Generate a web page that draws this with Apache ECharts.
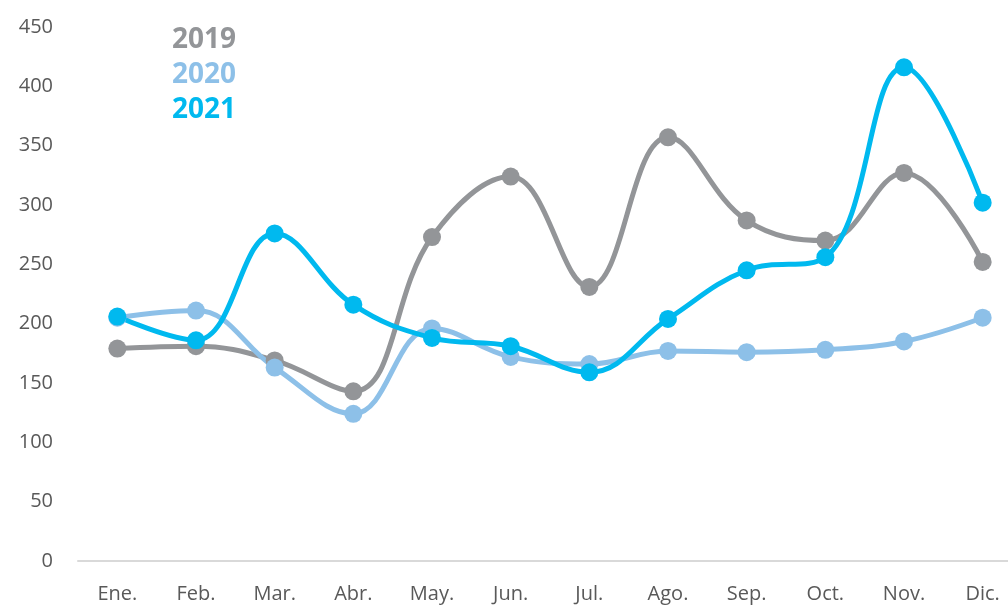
<!DOCTYPE html>
<html>
<head>
<meta charset="utf-8">
<script src="https://cdn.jsdelivr.net/npm/echarts@6/dist/echarts.min.js"></script>
<style>
  html, body { margin: 0; padding: 0; background: #fff; }
  #chart { width: 1008px; height: 606px; }
</style>
</head>
<body>
<div id="chart"></div>
<script>
const months = ['Ene.', 'Feb.', 'Mar.', 'Abr.', 'May.', 'Jun.', 'Jul.', 'Ago.', 'Sep.', 'Oct.', 'Nov.', 'Dic.'];
const years = ['2019', '2020', '2021'];
const data2019 = [179, 181, 169, 143, 273, 324, 231, 357, 287, 270, 327, 252];
const data2020 = [205, 211, 163, 124, 196, 172, 166, 177, 176, 178, 185, 205];
const data2021 = [206, 186, 276, 216, 188, 181, 159, 204, 245, 256, 416, 302];
const colors = ['#939598', '#8dc0e8', '#00b9ef'];

const font = '"Open Sans", "Noto Sans", sans-serif';

function makeSeries(name, values, color) {
  return {
    name: name,
    type: 'line',
    smooth: 0.4,
    data: values,
    symbol: 'circle',
    symbolSize: 18,
    lineStyle: { width: 5, color: color },
    itemStyle: { color: color },
    emphasis: { disabled: true }
  };
}

const chart = echarts.init(document.getElementById('chart'));
chart.setOption({
  animation: false,
  textStyle: { fontFamily: font },
  legend: {
    orient: 'vertical',
    left: 162,
    top: 20,
    icon: 'none',
    itemWidth: 0,
    itemHeight: 30,
    itemGap: 6,
    data: years.map((y, i) => ({
      name: y,
      textStyle: { color: colors[i], fontSize: 28, fontWeight: 'bold', fontFamily: font }
    }))
  },
  grid: { left: 78, top: 27, width: 944, height: 534, outerBoundsMode: 'none', containLabel: false },
  xAxis: {
    type: 'category',
    data: months,
    boundaryGap: true,
    axisLine: { lineStyle: { color: '#d9d9d9', width: 2 } },
    axisTick: { show: false },
    axisLabel: { color: '#595959', fontSize: 20, margin: 23, fontFamily: font }
  },
  yAxis: {
    type: 'value',
    min: 0,
    max: 450,
    interval: 50,
    splitLine: { show: false },
    axisLine: { show: false },
    axisTick: { show: false },
    axisLabel: { color: '#595959', fontSize: 20, margin: 25, fontFamily: font }
  },
  series: [
    makeSeries(years[0], data2019, colors[0]),
    makeSeries(years[1], data2020, colors[1]),
    makeSeries(years[2], data2021, colors[2])
  ]
});
</script>
</body>
</html>
